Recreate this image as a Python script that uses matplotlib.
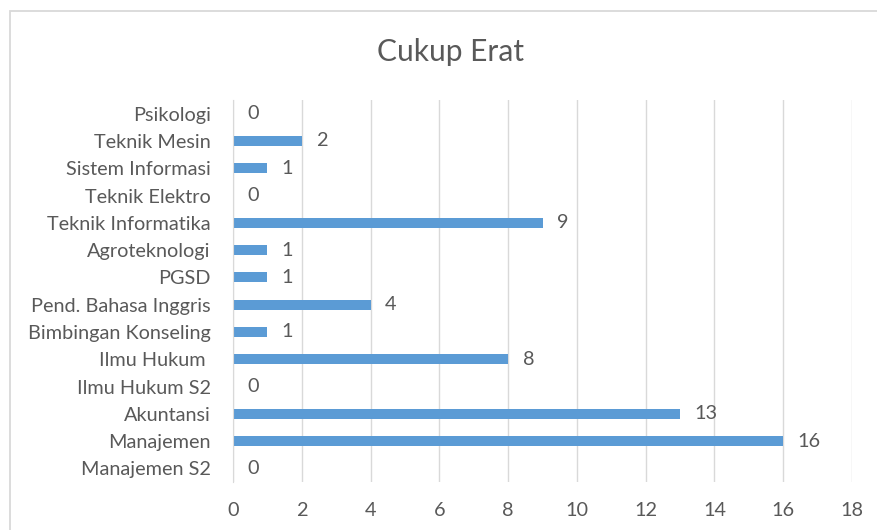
import matplotlib
matplotlib.use("Agg")
import matplotlib.pyplot as plt
from matplotlib.patches import Rectangle

categories = ["Manajemen S2", "Manajemen", "Akuntansi", "Ilmu Hukum S2", "Ilmu Hukum ",
              "Bimbingan Konseling", "Pend. Bahasa Inggris", "PGSD", "Agroteknologi",
              "Teknik Informatika", "Teknik Elektro", "Sistem Informasi", "Teknik Mesin", "Psikologi"]
values = [0, 16, 13, 0, 8, 1, 4, 1, 1, 9, 0, 1, 2, 0]
xticks = [0, 2, 4, 6, 8, 10, 12, 14, 16, 18]
title = "Cukup Erat"

plt.rcParams['font.family'] = ['Lato', 'DejaVu Sans']
txt = '#595959'
fs = 14.3
fig = plt.figure(figsize=(8.77, 5.30), dpi=100)
fig.patches.append(Rectangle((10/877, -0.1), 1.2, 1 - 11/530 + 0.1, transform=fig.transFigure,
                             fill=False, edgecolor='#D9D9D9', linewidth=1.3))
ax = fig.add_axes([233/877, 1 - 482/530, (852 - 233)/877, (482 - 100)/530])
y = list(range(len(categories)))
ax.barh(y, values, height=0.36, color='#5B9BD5', zorder=3)
for yi, v in zip(y, values):
    ax.text(v + 0.42, yi, str(v), va='center', ha='left', fontsize=fs, color=txt)
ax.set_xlim(0, 18)
ax.set_ylim(-0.5, len(categories) - 0.5)
ax.set_xticks(xticks)
ax.set_xticklabels([str(t) for t in xticks], fontsize=fs, color=txt)
ax.set_yticks(y)
ax.set_yticklabels(categories, fontsize=fs, color=txt)
ax.tick_params(axis='x', length=0, pad=14.5)
ax.tick_params(axis='y', length=0, pad=16)
ax.grid(axis='x', color='#D9D9D9', linewidth=1)
for s in ['top', 'right', 'bottom']:
    ax.spines[s].set_visible(False)
ax.spines['left'].set_color('#D9D9D9')
ax.spines['left'].set_zorder(4)
fig.text(450/877, 1 - 52/530, title, ha='center', va='center', fontsize=21.5, color=txt)
fig.savefig('out.png', dpi=100)
